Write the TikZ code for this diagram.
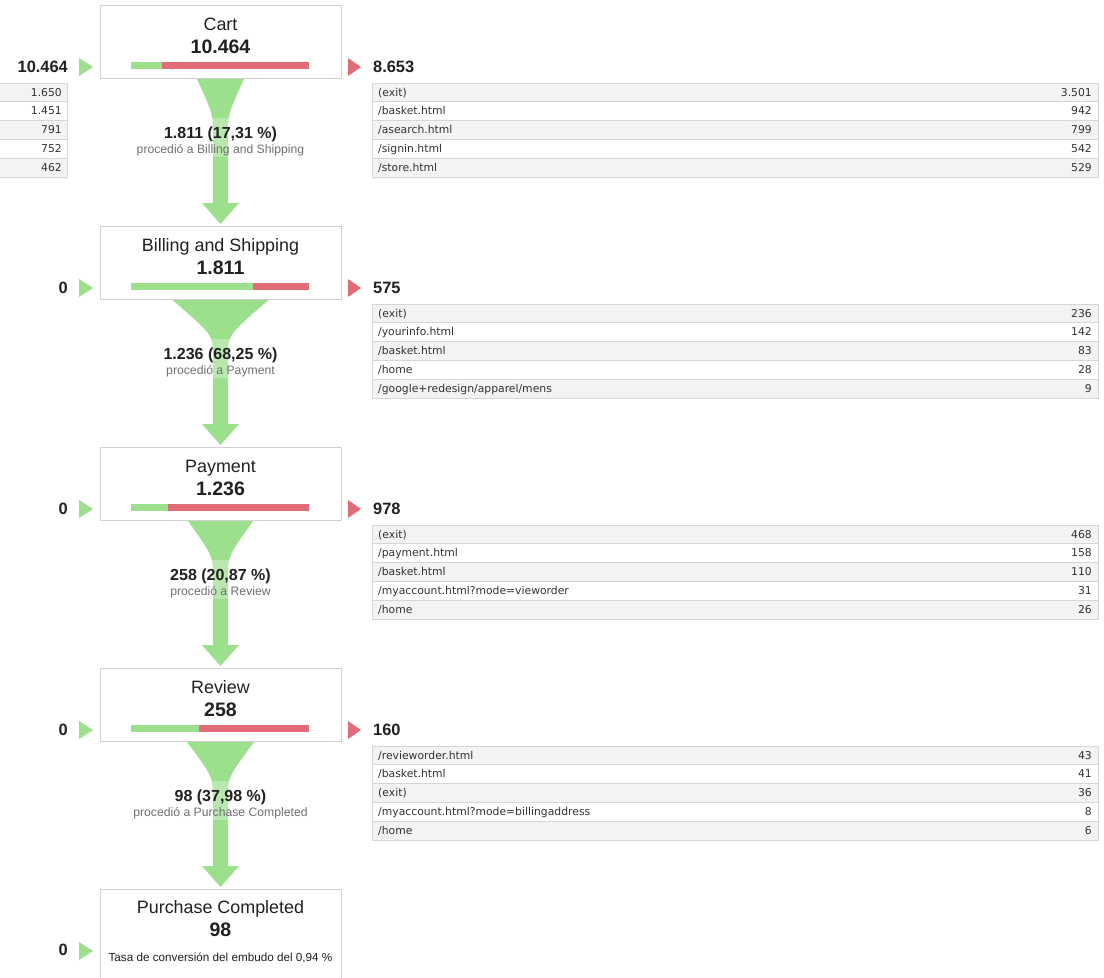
\documentclass[tikz,border=0pt]{standalone}
\usepackage{fontspec}
\setmainfont{Liberation Sans}
\newfontfamily\tabfont{DejaVu Sans}
\usetikzlibrary{calc}
\definecolor{fgreen}{HTML}{9CDF8C}
\definecolor{fred}{HTML}{E16B77}
\definecolor{boxline}{HTML}{D0D0D0}
\definecolor{rowgray}{HTML}{F3F3F3}
\definecolor{tline}{HTML}{D6D6D6}
\definecolor{ink}{HTML}{212121}
\definecolor{tabink}{HTML}{333333}
\definecolor{subink}{HTML}{707070}
\tikzset{
  stagebox/.style={draw=boxline, line width=1pt, fill=white, minimum width=241pt, minimum height=73pt, inner sep=0pt, anchor=north},
  titletxt/.style={font=\fontsize{17.9}{20}\selectfont, text=ink, anchor=base, inner sep=0pt},
  bignum/.style={font=\fontsize{19.5}{22}\selectfont\bfseries, text=ink, anchor=base, inner sep=0pt},
  sidenum/.style={font=\fontsize{16.4}{19}\selectfont\bfseries, text=ink, inner sep=0pt},
  flownum/.style={font=\fontsize{16}{18}\selectfont\bfseries, text=ink, anchor=base, inner sep=0pt},
  flowtxt/.style={font=\fontsize{12.2}{14}\selectfont, text=subink, anchor=base, inner sep=0pt},
  convtxt/.style={font=\fontsize{11.7}{13}\selectfont, text=ink, anchor=base, inner sep=0pt},
  tabtxt/.style={font=\tabfont\fontsize{10.8}{12}\selectfont, text=tabink, inner sep=0pt},
  tabrow/.style={draw=tline, line width=0.8pt},
}
% stage box with title, number, bar, side numbers
\newcommand\stagebox[7]{%
  \node[stagebox] (#1) at (220.5,#2) {};
  \node[titletxt] (#1t) at (220.5,#2+25) {#3};
  \node[bignum] (#1n) at (220.5,#2+48) {#4};
  \fill[fgreen] (131,#2+57) rectangle (#5,#2+64);
  \fill[fred] (#5,#2+57) rectangle (309,#2+64);
  \node[sidenum, anchor=base east] (#1in) at (68,#2+67) {#6};
  \fill[fgreen] (79,#2+53) -- (93,#2+62) -- (79,#2+71) -- cycle;
  \node[sidenum, anchor=base west] (#1out) at (373,#2+67) {#7};
  \fill[fred] (348,#2+53) -- (361,#2+62) -- (348,#2+71) -- cycle;
}
% funnel connector from one stage to the next
\newcommand\funnelto[5]{%
  \fill[fgreen, shift={(#1.south)}] (-#2,0) .. controls (-7.5,35) .. (-7.5,56) -- (-7.5,124) -- (-18.5,124) -- (0,145) -- (18.5,124) -- (7.5,124) -- (7.5,56) .. controls (7.5,35) .. (#2,0) -- cycle;
  \fill[white, opacity=0.3, shift={(#1.south)}] (-20,39) rectangle (20,78);
  \node[flownum] (#1fa) at ($(#1.south)+(0,59)$) {#3};
  \node[flowtxt] (#1fb) at ($(#1.south)+(0,74)$) {#4};
}
% exit table on the right
\newcommand\exittable[3]{%
  \foreach \l/\r [count=\i] in {#3} {
    \pgfmathsetmacro\yy{#2+(\i-1)*18.8}
    \ifodd\i \def\rc{rowgray}\else\def\rc{white}\fi
    \filldraw[tabrow, fill=\rc] (372,\yy) rectangle (1098,\yy+18.8);
    \node[tabtxt, anchor=base west] (#1a\i) at (378,\yy+13) {\l};
    \node[tabtxt, anchor=base east] (#1b\i) at (1092,\yy+13) {\r};
  }
}
\begin{document}
\begin{tikzpicture}[x=1pt,y=-1pt]
\useasboundingbox[fill=white] (0,0) rectangle (1104,978);

% left entrance table
\foreach \r [count=\i] in {1.650,1.451,791,752,462} {
  \pgfmathsetmacro\yy{83+(\i-1)*18.8}
  \ifodd\i \def\rc{rowgray}\else\def\rc{white}\fi
  \filldraw[tabrow, fill=\rc] (-1,\yy) rectangle (67,\yy+18.8);
  \node[tabtxt, anchor=base east] (ent\i) at (62,\yy+13) {\r};
}

\stagebox{cart}{5}{Cart}{10.464}{162}{10.464}{8.653}
\stagebox{bill}{226}{Billing and Shipping}{1.811}{253}{0}{575}
\stagebox{pay}{447}{Payment}{1.236}{168}{0}{978}
\stagebox{rev}{668}{Review}{258}{199}{0}{160}

% final stage
\node[stagebox, minimum height=110pt] (buy) at (220.5,889) {};
\node[titletxt] (buyt) at (220.5,913) {Purchase Completed};
\node[bignum] (buyn) at (220.5,936) {98};
\node[convtxt] (buyc) at (220.5,961) {Tasa de conversión del embudo del 0,94 \%};
\node[sidenum, anchor=base east] (buyin) at (68,955) {0};
\fill[fgreen] (79,942) -- (93,951) -- (79,960) -- cycle;

\funnelto{cart}{23.5}{1.811 (17,31 \%)}{procedió a Billing and Shipping}{bill}
\funnelto{bill}{48}{1.236 (68,25 \%)}{procedió a Payment}{pay}
\funnelto{pay}{32.5}{258 (20,87 \%)}{procedió a Review}{rev}
\funnelto{rev}{33.5}{98 (37,98 \%)}{procedió a Purchase Completed}{buy}

\exittable{ta}{83}{{(exit)}/3.501, {/basket.html}/942, {/asearch.html}/799, {/signin.html}/542, {/store.html}/529}
\exittable{tb}{304}{{(exit)}/236, {/yourinfo.html}/142, {/basket.html}/83, {/home}/28, {/google+redesign/apparel/mens}/9}
\exittable{tc}{525}{{(exit)}/468, {/payment.html}/158, {/basket.html}/110, {/myaccount.html?mode=vieworder}/31, {/home}/26}
\exittable{td}{746}{{/revieworder.html}/43, {/basket.html}/41, {(exit)}/36, {/myaccount.html?mode=billingaddress}/8, {/home}/6}
\end{tikzpicture}
\end{document}
